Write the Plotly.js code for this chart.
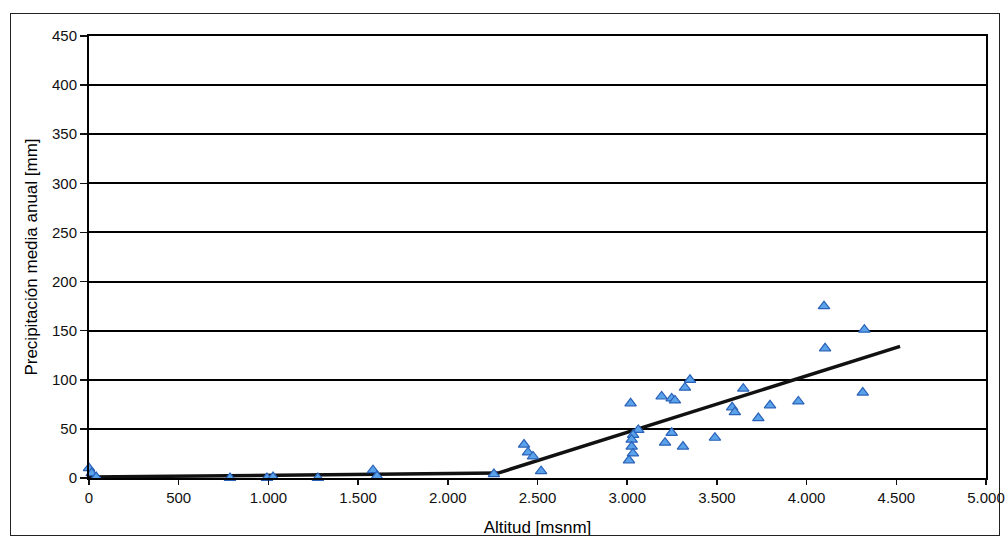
<!DOCTYPE html>
<html>
<head>
<meta charset="utf-8">
<script src="https://cdn.plot.ly/plotly-3.0.1.min.js"></script>
<style>
  html, body { margin: 0; padding: 0; background: #fff; }
  #wrap { position: relative; width: 1008px; height: 540px; overflow: hidden; }
  #frame { position: absolute; left: 10px; top: 13px; width: 990px; height: 523px; border: 1.5px solid #222; box-sizing: border-box; pointer-events: none; }
  #chart { position: absolute; left: 0; top: 0; width: 1008px; height: 540px; }
</style>
</head>
<body>
<div id="wrap">
  <div id="chart"></div>
  <div id="frame"></div>
</div>
<script>
// Estaciones: altitud [msnm] y precipitación media anual [mm]
const altitud = [0, 15, 40, 786, 992, 1026, 1276, 1583, 1605, 2257,
  2425, 2447, 2475, 2520,
  3019, 3062, 3033, 3025, 3025, 3032, 3010,
  3192, 3248, 3266, 3211, 3248, 3322, 3350, 3311, 3489,
  3585, 3600, 3647, 3731, 3796, 3954, 4097, 4103, 4313, 4322];
const precipitacion = [10, 5, 1, 0, 0, 1, 0, 8, 2, 4,
  34, 26, 22, 7,
  76, 49, 44, 39, 32, 25, 18,
  83, 81, 79, 36, 46, 92, 100, 32, 41,
  72, 67, 91, 61, 74, 78, 175, 132, 87, 151];

// Línea de ajuste (tramos)
const ajusteX = [0, 2280, 4521];
const ajusteY = [1, 5, 134];

const xTicks = [0, 500, 1000, 1500, 2000, 2500, 3000, 3500, 4000, 4500, 5000];
const yTicks = [0, 50, 100, 150, 200, 250, 300, 350, 400, 450];

const tickFont = {family: 'Liberation Sans, Arial, sans-serif', size: 15, color: '#111'};
const titleFont = {family: 'Liberation Sans, Arial, sans-serif', size: 17, color: '#000'};

const traces = [
  {
    x: ajusteX, y: ajusteY, type: 'scatter', mode: 'lines',
    line: {color: '#111', width: 3.5}, hoverinfo: 'skip', showlegend: false
  },
  {
    x: altitud, y: precipitacion, type: 'scatter', mode: 'markers',
    marker: {symbol: 'triangle-up', size: 10, color: '#5aa2ea', line: {color: '#2a62b8', width: 1.2}},
    showlegend: false, cliponaxis: false
  }
];

const layout = {
  width: 1008, height: 540,
  margin: {l: 89, r: 22, t: 36, b: 62},
  paper_bgcolor: 'rgba(0,0,0,0)', plot_bgcolor: '#fff',
  separators: ',.',
  showlegend: false,
  xaxis: {
    range: [0, 5000], tickvals: xTicks, tickformat: ',',
    ticks: 'outside', ticklen: 5, tickwidth: 1.5, tickcolor: '#111',
    showgrid: false, zeroline: false,
    showline: true, linecolor: '#000', linewidth: 2, mirror: true,
    tickfont: tickFont,
    title: {text: 'Altitud [msnm]', font: titleFont, standoff: 16}
  },
  yaxis: {
    range: [0, 450], tickvals: yTicks,
    ticks: 'outside', ticklen: 7, tickwidth: 1.5, tickcolor: '#111',
    showgrid: true, gridcolor: '#000', gridwidth: 2, zeroline: false,
    showline: true, linecolor: '#000', linewidth: 2, mirror: true,
    tickfont: tickFont,
    title: {text: 'Precipitación media anual [mm]', font: titleFont, standoff: 10}
  }
};

Plotly.newPlot('chart', traces, layout, {displayModeBar: false, staticPlot: true});
</script>
</body>
</html>
